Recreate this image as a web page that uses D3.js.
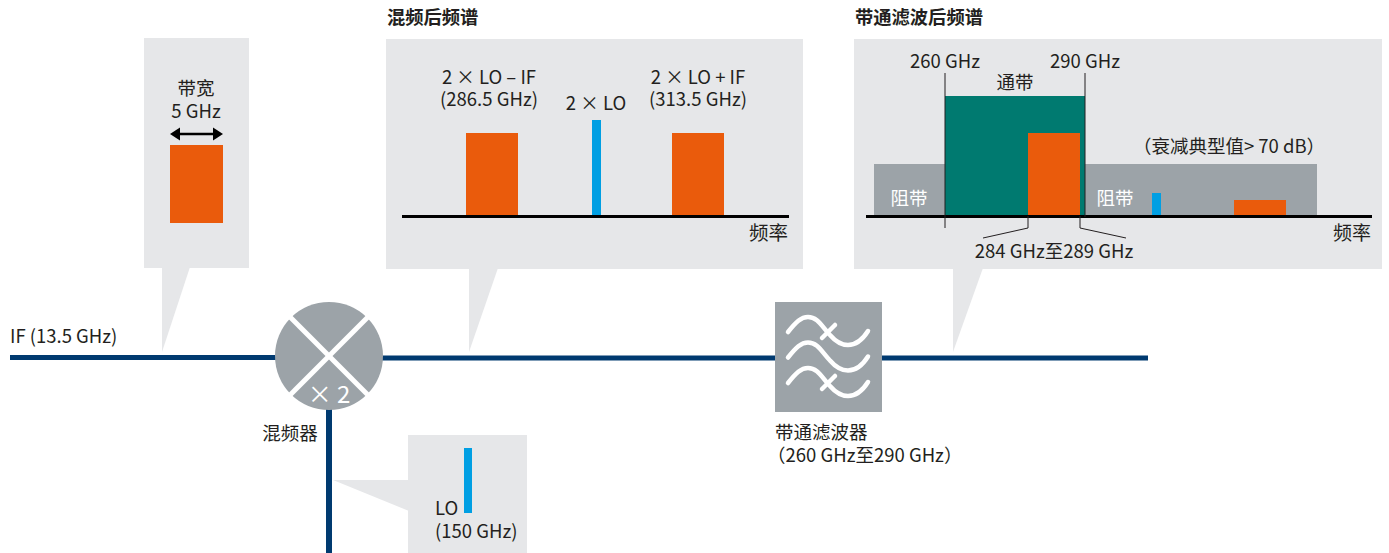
<!DOCTYPE html>
<html>
<head>
<meta charset="utf-8">
<title>mixer_spectrum</title>
<script src="https://cdn.jsdelivr.net/npm/d3@7"></script>
<style>
  html, body { margin: 0; padding: 0; background: #fff; }
  svg { display: block; }
  text { font-family: "Noto Sans CJK SC", "Noto Sans", sans-serif; font-size: 18.5px; fill: #231f20; }
</style>
</head>
<body>
<svg id="mainsvg" width="1389" height="553"></svg>
<script>
// GHz bands, amplitude in relative units (picture is schematic, not to scale)
const mixedBands = [
  {name: '2 x LO - IF', lo: 284, hi: 289, amp: 83, color: 'orange'},
  {name: '2 x LO', lo: 299.5, hi: 300.5, amp: 96, color: 'blue'},
  {name: '2 x LO + IF', lo: 311, hi: 316, amp: 83, color: 'orange'}
];
const stopBands = [
  {lo: 252, hi: 260, amp: 52, color: 'gray'},
  {lo: 290, hi: 335, amp: 52, color: 'gray'}
];
const passBand = [{lo: 260, hi: 290, amp: 120, color: 'teal'}];
const filteredBands = [
  {lo: 284, hi: 289, amp: 83, color: 'orange'},
  {lo: 299.5, hi: 300.5, amp: 23, color: 'blue'},
  {lo: 311, hi: 316, amp: 16, color: 'orange'}
];
const ifBand = [{lo: -2.5, hi: 2.5, amp: 78, color: 'orange'}];
const loLine = [{lo: 149.5, hi: 150.5, amp: 65, color: 'blue'}];

const colors = {orange: '#ea5b0c', blue: '#009fe3', gray: '#9ca3a8', teal: '#007a70'};
const panelFill = '#e6e7e9';
const navy = '#003a70';

const svg = d3.select('#mainsvg');

// the frequency axes are schematic so the scales are piecewise
const xIf = d3.scaleLinear().domain([-2.5, 2.5]).range([170, 223]);
const xLo = d3.scaleLinear().domain([149.5, 150.5]).range([464, 472]);
const xMixed = d3.scaleLinear()
  .domain([284, 289, 299.5, 300.5, 311, 316])
  .range([466, 518, 592, 601, 672, 724]);
const xFiltered = d3.scaleLinear()
  .domain([252, 260, 284, 289, 290, 299.5, 300.5, 311, 316, 335])
  .range([874, 945, 1028, 1080, 1085, 1152, 1161, 1234, 1286, 1317]);
const yScale = base => d3.scaleLinear().domain([0, 100]).range([base, base - 100]);

const panels = [
  {x: 144, y: 38, w: 105, h: 230},
  {x: 386, y: 39, w: 417, h: 230},
  {x: 854, y: 39, w: 528, h: 230},
  {x: 408, y: 435, w: 119, h: 118}
];
const callouts = [
  '162,352 162,267 190,267',
  '469,352 469,268 498,268',
  '953,352 953,268 983,268',
  '333,480 409,480 409,511'
];

// panels and their pointers
svg.append('g').selectAll('rect').data(panels).join('rect')
  .attr('x', d => d.x).attr('y', d => d.y)
  .attr('width', d => d.w).attr('height', d => d.h)
  .attr('fill', panelFill);
svg.append('g').selectAll('polygon').data(callouts).join('polygon')
  .attr('points', d => d).attr('fill', panelFill);

const drawBands = function(data, x, y) {
  svg.append('g').selectAll('rect').data(data).join('rect')
    .attr('x', d => x(d.lo))
    .attr('y', d => y(d.amp))
    .attr('width', d => x(d.hi) - x(d.lo))
    .attr('height', d => y(0) - y(d.amp))
    .attr('fill', d => colors[d.color]);
};

const line = function(x1, y1, x2, y2, color, w) {
  svg.append('line')
    .attr('x1', x1).attr('y1', y1).attr('x2', x2).attr('y2', y2)
    .attr('stroke', color).attr('stroke-width', w);
};

drawBands(ifBand, xIf, yScale(223));
drawBands(mixedBands, xMixed, yScale(216));
drawBands(stopBands, xFiltered, yScale(216));
drawBands(passBand, xFiltered, yScale(216));
drawBands(filteredBands, xFiltered, yScale(216));
drawBands(loLine, xLo, yScale(513));

// frequency baselines
line(402, 216.5, 789, 216.5, '#000', 3);
line(866, 216.5, 1372, 216.5, '#000', 3);

// markers in filtered spectrum
const edgeColor = '#231f20';
line(xFiltered(260), 73, xFiltered(260), 228, edgeColor, 1);
line(xFiltered(290), 73, xFiltered(290), 217, edgeColor, 1);
svg.append('polyline').attr('points', `${xFiltered(284)},216 ${xFiltered(284)},228 983,238`)
  .attr('fill', 'none').attr('stroke', edgeColor);
svg.append('polyline').attr('points', `${xFiltered(289)},216 ${xFiltered(289)},228 1126,238`)
  .attr('fill', 'none').attr('stroke', edgeColor);

// bandwidth arrow
line(178, 134, 215, 134, '#000', 2.5);
svg.append('polygon').attr('points', '170,134 180,127.5 180,140.5').attr('fill', '#000');
svg.append('polygon').attr('points', '223,134 213,127.5 213,140.5').attr('fill', '#000');

// signal path
line(10, 357.5, 280, 357.5, navy, 5);
line(380, 358, 780, 358, navy, 5);
line(880, 358, 1148, 358, navy, 5);
line(329, 405, 329, 553, navy, 6);

// mixer
svg.append('circle').attr('cx', 329).attr('cy', 356).attr('r', 54).attr('fill', '#9ca3a8');
const s = 54 * Math.SQRT1_2 + 1;
line(329 - s, 356 - s, 329 + s, 356 + s, '#fff', 5);
line(329 + s, 356 - s, 329 - s, 356 + s, '#fff', 5);

// filter icon
svg.append('rect').attr('x', 775).attr('y', 302).attr('width', 107).attr('height', 110).attr('fill', '#9ca3a8');
const wave = 'M788,332 C796,322 801,317 808,317 C818,317 822,327 830,335 C836,342 842,345 848,345 C857,345 863,339 868,331';
[0, 25.5, 51].forEach(dy => {
  svg.append('path').attr('d', wave).attr('transform', `translate(0,${dy})`)
    .attr('fill', 'none').attr('stroke', '#fff').attr('stroke-width', 4.5).attr('stroke-linecap', 'round');
});
[0, 51].forEach(dy => {
  svg.append('line').attr('x1', 822).attr('y1', 338 + dy).attr('x2', 835).attr('y2', 325 + dy)
    .attr('stroke', '#fff').attr('stroke-width', 4.5).attr('stroke-linecap', 'round');
});

// text labels
const labels = [
  ['混频后频谱', 387, 24, 'start', 'bold', null, 18.3],
  ['带通滤波后频谱', 855, 24, 'start', 'bold', null, 18.3],
  ['带宽', 196, 95, 'middle'],
  ['5 GHz', 196, 118, 'middle'],
  ['2 × LO – IF', 489, 84, 'middle'],
  ['(286.5 GHz)', 489, 106, 'middle'],
  ['2 × LO', 596, 110, 'middle'],
  ['2 × LO + IF', 698, 84, 'middle'],
  ['(313.5 GHz)', 698, 106, 'middle'],
  ['频率', 788, 240, 'end', 'normal', null, 19.5],
  ['260 GHz', 945, 68, 'middle'],
  ['290 GHz', 1085, 68, 'middle'],
  ['通带', 1015, 89, 'middle'],
  ['（衰减典型值> 70 dB）', 1229, 153, 'middle'],
  ['阻带', 909, 205, 'middle', 'normal', '#fff'],
  ['阻带', 1115, 205, 'middle', 'normal', '#fff'],
  ['频率', 1371, 240, 'end', 'normal', null, 19],
  ['284 GHz至289 GHz', 1054, 258, 'middle'],
  ['IF (13.5 GHz)', 10, 343, 'start'],
  ['混频器', 290, 440, 'middle'],
  ['带通滤波器', 775, 439, 'start'],
  ['（260 GHz至290 GHz）', 767, 462, 'start'],
  ['LO', 435, 515, 'start'],
  ['(150 GHz)', 435, 538, 'start'],
  ['× 2', 329, 403, 'middle', 'normal', '#fff', 24]
];
svg.append('g').selectAll('text').data(labels).join('text')
  .attr('x', d => d[1]).attr('y', d => d[2])
  .attr('text-anchor', d => d[3])
  .style('font-weight', d => d[4] || 'normal')
  .style('fill', d => d[5] || null)
  .style('font-size', d => d[6] ? d[6] + 'px' : null)
  .text(d => d[0]);
</script>
</body>
</html>
